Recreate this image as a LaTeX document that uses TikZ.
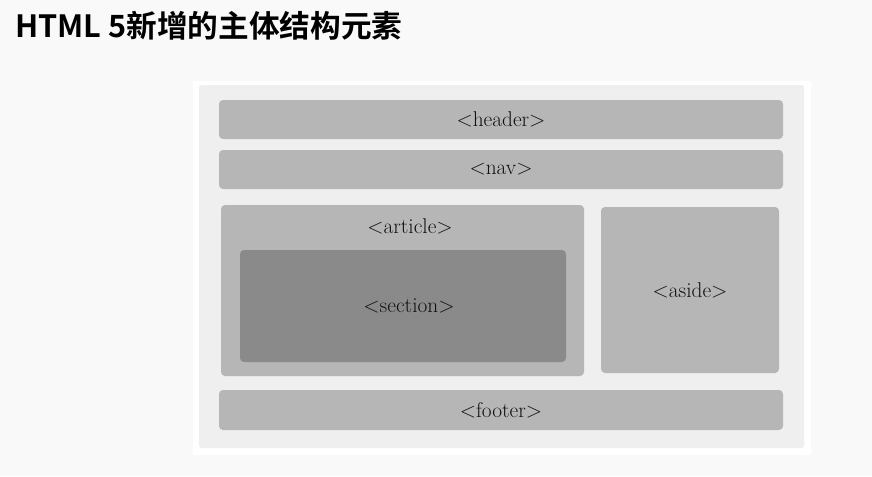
\documentclass[tikz,border=0pt]{standalone}
\usepackage{fontspec}
\usepackage{xcolor}
\usepackage{tikz}
\newfontfamily\cjkbold{Noto Sans CJK SC Bold}
\definecolor{pagebg}{HTML}{F9F9F9}
\definecolor{panelgray}{HTML}{EFEFEF}
\definecolor{boxgray}{HTML}{B5B6B5}
\definecolor{secgray}{HTML}{8A8A8A}
\definecolor{inktext}{HTML}{111111}

\begin{document}
\begin{tikzpicture}[
  x=0.75pt, y=-0.75pt,
  blk/.style={fill=boxgray, rounded corners=3pt, inner sep=0pt,
    text=inktext, font=\fontsize{16}{19}\selectfont},
  inner/.style={blk, fill=secgray},
  lbl/.style={text=inktext, font=\fontsize{16}{19}\selectfont, inner sep=0pt}
]
\useasboundingbox[fill=pagebg] (0,0) rectangle (872,476);
% title
\node[anchor=base west, inner sep=0pt, font=\cjkbold\fontsize{23}{27}\selectfont] (title) at (15,37) {HTML 5新增的主体结构元素};
% frame and panel
\node[fill=white, minimum width=463.5pt, minimum height=280.5pt, inner sep=0pt] (frame) at (502,268) {};
\node[fill=panelgray, rounded corners=2pt, minimum width=453.75pt, minimum height=272.25pt, inner sep=0pt] (panel) at (501.5,266.5) {};
% bars
\node[blk, minimum width=423pt, minimum height=29.25pt] (header) at (501,119.5) {<header>};
\node[blk, minimum width=423pt, minimum height=29.25pt] (nav) at (501,169.5) {<nav>};
\node[blk, minimum width=423pt, minimum height=30pt] (footer) at (501,410) {<footer>};
% main area
\node[blk, minimum width=272.25pt, minimum height=128.25pt] (article) at (402.5,290.5) {};
\node[lbl] (articletxt) at (410,226) {<article>};
\node[inner, minimum width=244.5pt, minimum height=84pt] (section) at (403,306) {\hspace*{9pt}<section>};
\node[blk, minimum width=133.5pt, minimum height=124.5pt] (aside) at (690,290) {<aside>};
\end{tikzpicture}
\end{document}
